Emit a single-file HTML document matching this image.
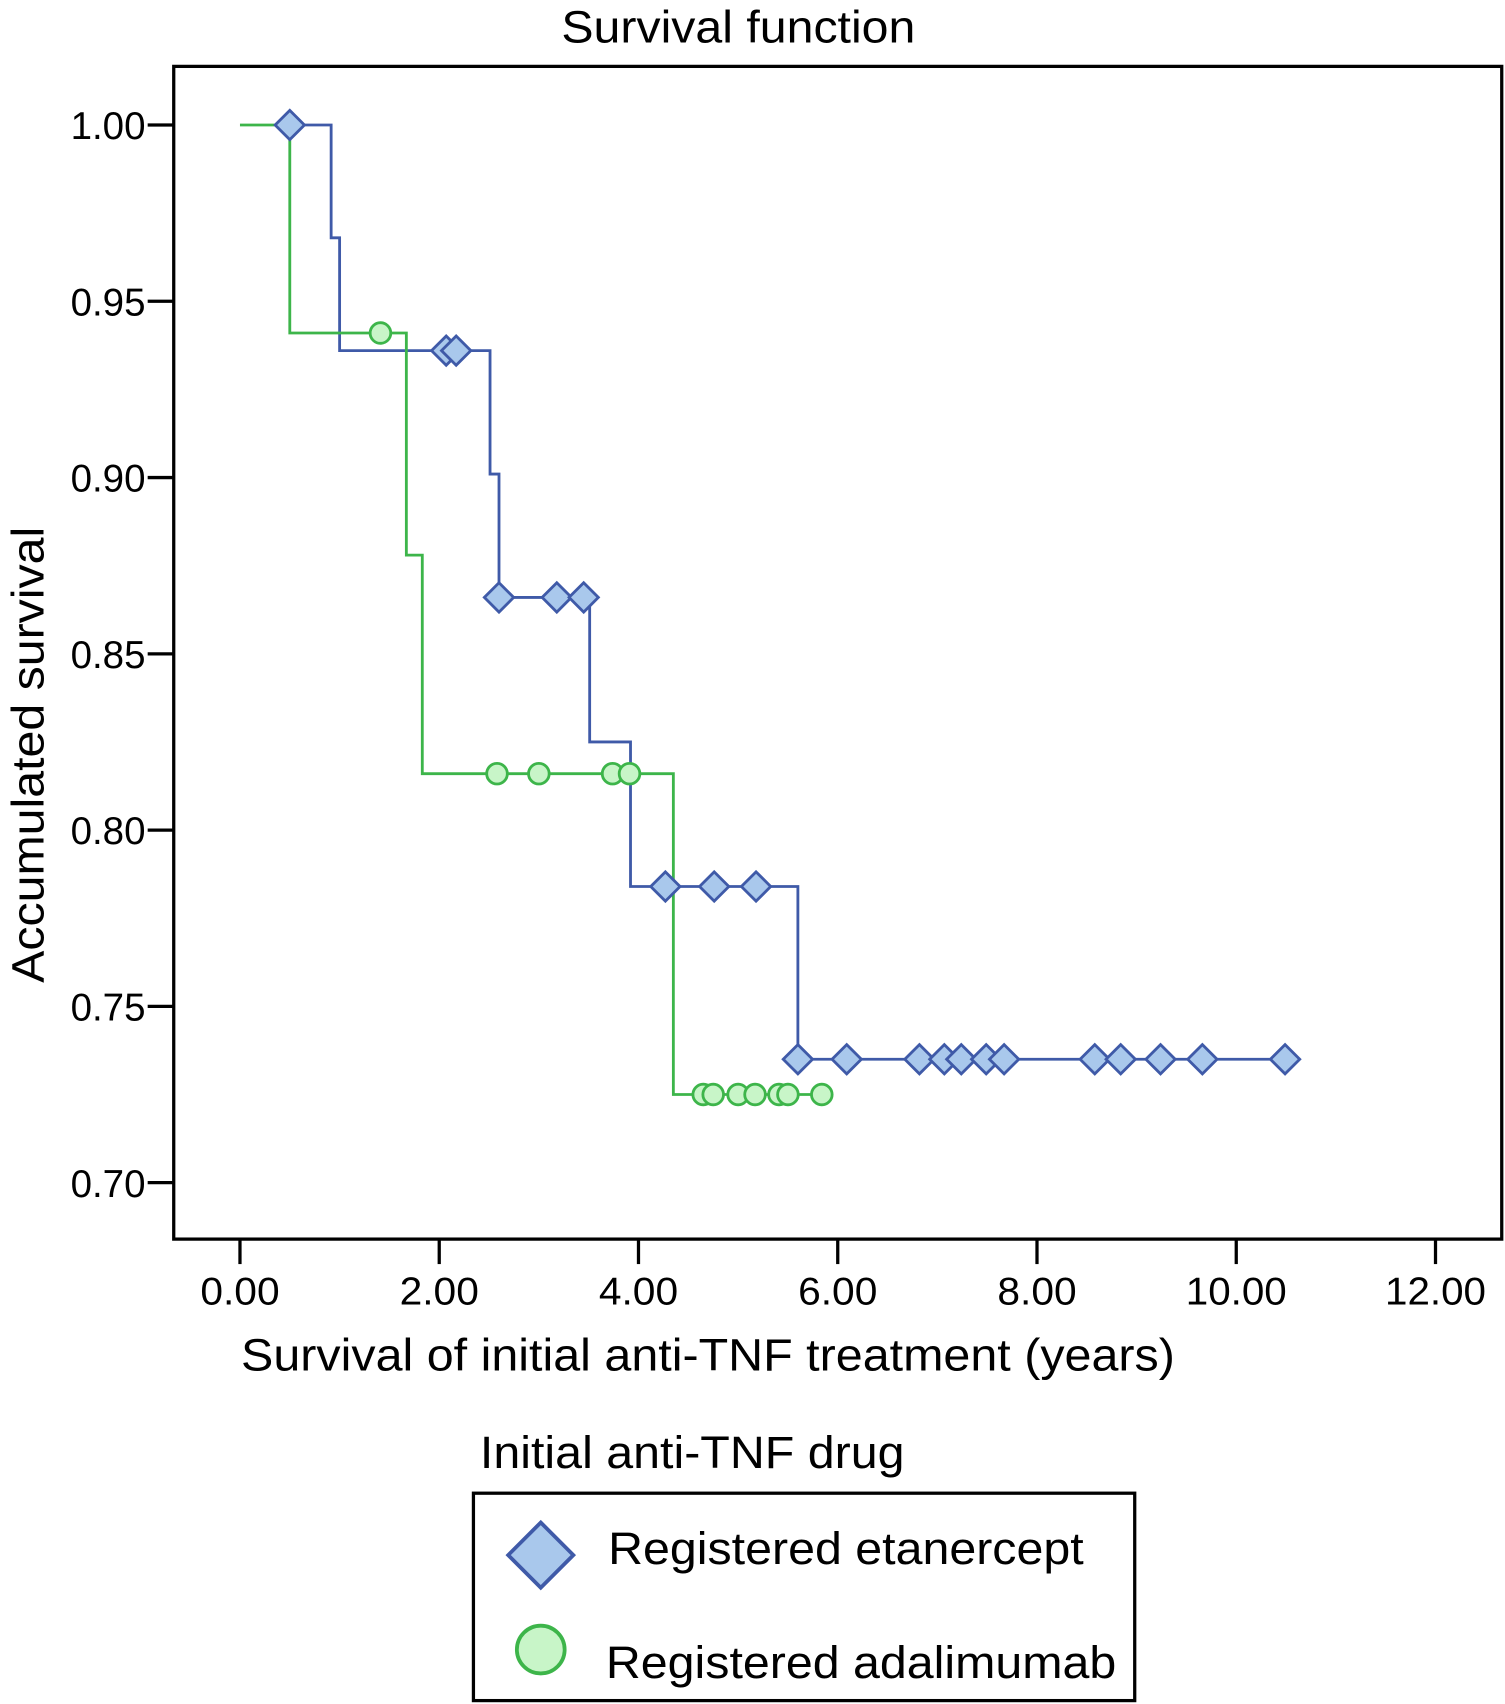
<!DOCTYPE html>
<html><head><meta charset="utf-8"><style>
html,body{margin:0;padding:0;background:#fff}
svg{display:block}
text{font-family:"Liberation Sans",Arial,sans-serif;fill:#000}
</style></head><body>
<svg id="chart" width="1505" height="1704" viewBox="0 0 1386 1569" xmlns="http://www.w3.org/2000/svg">
<rect width="1386" height="1569" fill="#fff"/>
<text x="517" y="39" font-size="42" textLength="326" lengthAdjust="spacingAndGlyphs">Survival function</text>
<rect x="160" y="61" width="1223" height="1080" fill="none" stroke="#000" stroke-width="3"/>
<g id="yaxis"></g>
<g id="xaxis"></g>
<g id="series"></g>
<text x="222" y="1262" font-size="42" textLength="860" lengthAdjust="spacingAndGlyphs">Survival of initial anti-TNF treatment (years)</text>
<text transform="translate(40,905) rotate(-90)" font-size="42" textLength="420" lengthAdjust="spacingAndGlyphs">Accumulated survival</text>
<text x="442" y="1352" font-size="42" textLength="391" lengthAdjust="spacingAndGlyphs">Initial anti-TNF drug</text>
<g>
<rect x="436" y="1375" width="609" height="191" fill="none" stroke="#000" stroke-width="3"/>
<g>
<polygon points="498,1402 528,1432 498,1462 468,1432" fill="#a9c8ec" stroke="#3f5aa8" stroke-width="3.5"/>
<text x="560" y="1440" font-size="42" textLength="438" lengthAdjust="spacingAndGlyphs">Registered etanercept</text></g>
<g>
<circle cx="498" cy="1519" r="22" fill="#c8f5c8" stroke="#3db54a" stroke-width="3.5"/>
<text x="558" y="1545" font-size="42" textLength="470" lengthAdjust="spacingAndGlyphs">Registered adalimumab</text></g>
</g>
</svg>
<script>
const xTicks=[0,2,4,6,8,10,12];
const xTickLabels=["0.00","2.00","4.00","6.00","8.00","10.00","12.00"];
const yTicks=[0.70,0.75,0.80,0.85,0.90,0.95,1.00];
const yTickLabels=["0.70","0.75","0.80","0.85","0.90","0.95","1.00"];
// etanercept
const etaStart=0.5;
const etaEventTimes=[0.915,1.0,2.51,2.6,3.51,3.92,5.6];
const etaSurvival=[0.968,0.936,0.901,0.866,0.825,0.784,0.735];
const etaEnd=10.49;
const etaCensorTimes=[0.5,2.07,2.17,2.6,3.18,3.45,4.27,4.76,5.18,5.6,6.09,6.82,7.07,7.24,7.49,7.67,8.58,8.84,9.24,9.66,10.49];
const etaCensorSurv=[1.0,0.936,0.936,0.866,0.866,0.866,0.784,0.784,0.784,0.735,0.735,0.735,0.735,0.735,0.735,0.735,0.735,0.735,0.735,0.735,0.735];
// adalimumab
const adaStart=0;
const adaEventTimes=[0.5,1.67,1.83,4.35];
const adaSurvival=[0.941,0.878,0.816,0.725];
const adaEnd=5.84;
const adaCensorTimes=[1.41,2.58,3.0,3.74,3.91,4.65,4.75,5.0,5.17,5.41,5.5,5.84];
const adaCensorSurv=[0.941,0.816,0.816,0.816,0.816,0.725,0.725,0.725,0.725,0.725,0.725,0.725];

const NS="http://www.w3.org/2000/svg";
function X(v){return 221+v*(1322-221)/12;}
function Y(v){return 1089-(v-0.70)*(1089-115)/0.30;}
function mk(tag,attrs,parent){const e=document.createElementNS(NS,tag);for(const k in attrs)e.setAttribute(k,attrs[k]);parent.appendChild(e);return e;}
const ya=document.getElementById('yaxis'),xa=document.getElementById('xaxis'),sg=document.getElementById('series');
yTicks.forEach((v,i)=>{
  const t=mk('line',{x1:136,x2:160,y1:Y(v),y2:Y(v),stroke:'#000','stroke-width':3},ya);
  
  
  const l=mk('text',{x:65,y:Y(v)+13,'font-size':36,textLength:69,lengthAdjust:'spacingAndGlyphs'},ya);
  l.textContent=yTickLabels[i];
  
  
});
xTicks.forEach((v,i)=>{
  const t=mk('line',{x1:X(v),x2:X(v),y1:1141,y2:1164,stroke:'#000','stroke-width':3},xa);
  
  
  const w=xTickLabels[i].length>4?93:73;
  const l=mk('text',{x:X(v)-w/2,y:1201,'font-size':36,textLength:w,lengthAdjust:'spacingAndGlyphs'},xa);
  l.textContent=xTickLabels[i];
  
  
});
function stepPath(start,times,surv,end){
  let d='M'+X(start)+','+Y(1);
  times.forEach((t,i)=>{d+=' H'+X(t)+' V'+Y(surv[i]);});
  d+=' H'+X(end);return d;
}
const ep=mk('path',{d:stepPath(etaStart,etaEventTimes,etaSurvival,etaEnd),fill:'none',stroke:'#3f5aa8','stroke-width':2.6},sg);


const ap=mk('path',{d:stepPath(adaStart,adaEventTimes,adaSurvival,adaEnd),fill:'none',stroke:'#3db54a','stroke-width':2.6},sg);


adaCensorTimes.forEach((t,i)=>{
  const c=mk('circle',{cx:X(t),cy:Y(adaCensorSurv[i]),r:9.5,fill:'#c8f5c8',stroke:'#3db54a','stroke-width':2.6},sg);
  
  
});
etaCensorTimes.forEach((t,i)=>{
  const x=X(t),y=Y(etaCensorSurv[i]),h=13.5;
  const p=mk('polygon',{points:`${x},${y-h} ${x+h},${y} ${x},${y+h} ${x-h},${y}`,fill:'#a9c8ec',stroke:'#3f5aa8','stroke-width':2.6},sg);
  
  
});
</script>
</body></html>
